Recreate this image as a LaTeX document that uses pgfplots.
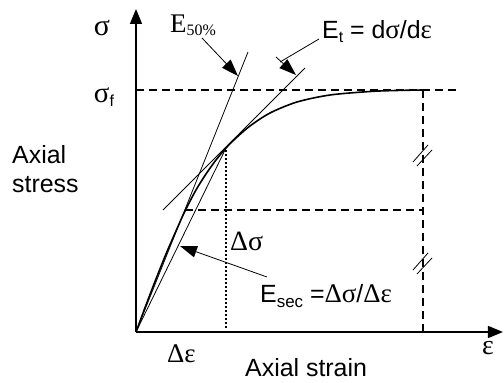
\documentclass[border=0pt]{standalone}
\usepackage{fontspec}
\setmainfont{Liberation Sans}
\newfontfamily\gr{Liberation Serif}
\usepackage{pgfplots}
\pgfplotsset{compat=1.18}
\usetikzlibrary{arrows.meta,calc}

\newcommand\fs[1]{\fontsize{#1}{#1}\selectfont}
% lowered, smaller subscript: depth, size, text
\newcommand\lowsub[3]{\raisebox{-#1}{\fs{#2}#3}}
% pointer from #1 to #2 with a solid triangular head
\newcommand\pointer[2]{%
  \draw[thin line] (#1) -- ($(#2)!8bp!(#1)$);
  \fill[black] (#2)
    -- ($($(#2)!17bp!(#1)$)!6bp!90:(#2)$)
    -- ($($(#2)!17bp!(#1)$)!6bp!-90:(#2)$) -- cycle;}

\tikzset{
  thin line/.style={black, line width=0.8bp},
  dash line/.style={black, line width=1.2bp, dash pattern=on 8bp off 5bp},
}

\begin{document}
\begin{tikzpicture}
\useasboundingbox (-136bp,-51bp) rectangle (368bp,332bp);
\begin{axis}[
  x=1bp, y=1bp,
  xmin=0, xmax=367, ymin=0, ymax=323,
  axis lines=left, ticks=none, clip=false,
  axis line style={line width=1.5bp},
  x axis line style={-{Triangle[length=15bp,width=12bp]}},
  y axis line style={-{Triangle[length=15bp,width=12bp]}},
]
% stress-strain curve
\addplot[black, line width=1.6bp, smooth, tension=0.5] coordinates {
  (0,0) (10,27) (20,53) (30,78) (40,101) (49,121) (60,142) (70,158)
  (80,172) (90,184) (100,194) (114,206) (134,219) (161,230)
  (194,237) (234,240.5) (260,241.5) (287,242)};
% E50% secant, tangent and secant moduli
\addplot[thin line] coordinates {(0,0) (112,280)};
\addplot[thin line] coordinates {(27,122) (169,264)};
\addplot[thin line] coordinates {(0,0) (90,184)};
% reference lines
\addplot[dash line] coordinates {(0,242) (324,242)};
\addplot[dash line] coordinates {(49,122) (287,122)};
\addplot[dash line] coordinates {(287,0) (287,242)};
\addplot[black, line width=1.5bp, dash pattern=on 1.5bp off 2.5bp] coordinates {(90,0) (90,184)};
% break marks
\draw[thin line] (axis cs:277,170) -- (axis cs:292,187);
\draw[thin line] (axis cs:281,166) -- (axis cs:296,182);
\draw[thin line] (axis cs:277,62) -- (axis cs:292,79);
\draw[thin line] (axis cs:281,58) -- (axis cs:296,74);
% anchor points for the pointers
\coordinate (p1a) at (axis cs:66,294);
\coordinate (p1b) at (axis cs:102,256);
\coordinate (p2a) at (axis cs:183,293);
\coordinate (p2b) at (axis cs:144,270);
\coordinate (p2c) at (axis cs:140,275);
\coordinate (p2d) at (axis cs:160,257);
\coordinate (p3a) at (axis cs:131,55);
\coordinate (p3b) at (axis cs:44,86);
% labels
\node[anchor=base west, inner sep=0] at (axis cs:34,300) {\gr\fs{27}E\lowsub{3bp}{16}{50\%}};
\node[anchor=base west, inner sep=0] at (axis cs:186,294) {\fs{25}E\lowsub{4bp}{16}{t} = d{\gr\fs{27}σ}/d{\gr\fs{27}ε}};
\node[anchor=base west, inner sep=0] at (axis cs:124,30) {\fs{25}E\lowsub{5bp}{17}{sec} ={\gr\fs{27}Δσ}/{\gr\fs{27}Δε}};
\node[anchor=base west, inner sep=0] at (axis cs:94,82) {\gr\fs{28}Δσ};
\node[anchor=base west, inner sep=0] at (axis cs:31,-30) {\gr\fs{27}Δε};
\node[anchor=base west, inner sep=0] at (axis cs:109,-44) {\fs{25}Axial strain};
\node[anchor=base west, inner sep=0] at (axis cs:-124,169) {\fs{25}Axial};
\node[anchor=base west, inner sep=0] at (axis cs:-124,140) {\fs{25}stress};
\node[inner sep=0] at (axis cs:-34,304) {\gr\fs{30}σ};
\node[inner sep=0] at (axis cs:-32,235) {{\gr\fs{29}σ}\lowsub{4bp}{16}{f}};
\node[inner sep=0] at (axis cs:352,-16) {\gr\fs{28}ε};
\end{axis}
% pointers from the labels to the lines
\pointer{p1a}{p1b}
\draw[thin line] (p2a) -- (p2b);
\pointer{p2c}{p2d}
\pointer{p3a}{p3b}
\end{tikzpicture}
\end{document}
